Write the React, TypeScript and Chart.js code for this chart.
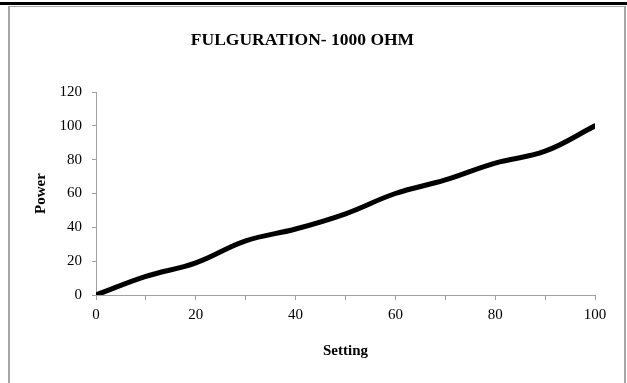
import React, { useEffect, useRef } from "react";
import { Chart, registerables } from "chart.js";

Chart.register(...registerables);

const settings = [0, 10, 20, 30, 40, 50, 60, 70, 80, 90, 100];
const power = [0, 11, 19, 32, 39, 48, 60, 68, 78, 85, 100];
const chartTitle = "FULGURATION- 1000 OHM";
const xTitle = "Setting";
const yTitle = "Power";

const FONT = "'Times New Roman', 'Liberation Serif', serif";
const AXIS_GRAY = "#a0a0a0";

export default function App() {
  const ref = useRef<HTMLCanvasElement | null>(null);

  useEffect(() => {
    if (!ref.current) return;
    const chart = new Chart(ref.current, {
      type: "line",
      data: {
        datasets: [
          {
            data: settings.map((s, i) => ({ x: s, y: power[i] })),
            borderColor: "#000",
            borderWidth: 5,
            borderCapStyle: "round",
            borderJoinStyle: "round",
            pointRadius: 0,
            tension: 0.4,
            fill: false,
          },
        ],
      },
      options: {
        responsive: false,
        animation: false,
        layout: { padding: { left: 0, right: 27, top: 0, bottom: 0 } },
        plugins: {
          legend: { display: false },
          tooltip: { enabled: false },
          title: {
            display: true,
            text: chartTitle,
            color: "#000",
            font: { family: FONT, size: 17.5, weight: "bold", lineHeight: 1.2 },
            padding: { top: 22, bottom: 41 },
          },
        },
        scales: {
          x: {
            type: "linear",
            min: 0,
            max: 100,
            afterFit: (s: any) => {
              s.height = 88;
            },
            ticks: {
              stepSize: 10,
              autoSkip: false,
              maxRotation: 0,
              padding: 6,
              color: "#000",
              font: { family: FONT, size: 15 },
              callback: (v: any) => (Number(v) % 20 === 0 ? String(v) : ""),
            },
            grid: {
              drawOnChartArea: false,
              drawTicks: true,
              tickLength: 5,
              color: AXIS_GRAY,
            },
            border: { color: AXIS_GRAY, width: 1 },
            title: {
              display: true,
              text: xTitle,
              color: "#000",
              font: { family: FONT, size: 15, weight: "bold", lineHeight: 1.2 },
              padding: { top: 0, bottom: 23 },
            },
          },
          y: {
            type: "linear",
            min: 0,
            max: 120,
            afterFit: (s: any) => {
              s.width = 86;
            },
            ticks: {
              stepSize: 20,
              padding: 10,
              color: "#000",
              font: { family: FONT, size: 15 },
            },
            grid: {
              drawOnChartArea: false,
              drawTicks: true,
              tickLength: 4,
              color: AXIS_GRAY,
            },
            border: { color: AXIS_GRAY, width: 1 },
            title: {
              display: true,
              text: yTitle,
              color: "#000",
              font: { family: FONT, size: 15, weight: "bold", lineHeight: 1.2 },
              padding: { top: 22, bottom: 0 },
            },
          },
        },
      },
    } as any);
    return () => chart.destroy();
  }, []);

  return (
    <div
      style={{
        position: "fixed",
        left: 0,
        top: 0,
        width: 627,
        height: 383,
        background: "#fff",
        overflow: "hidden",
      }}
    >
      <div
        style={{
          position: "absolute",
          left: 0,
          top: 2,
          width: 627,
          height: 3,
          background: "#000",
        }}
      />
      <div
        style={{
          position: "absolute",
          left: 8,
          top: 6,
          width: 614,
          height: 420,
          borderLeft: "2px solid #a6a6a6",
          borderRight: "2px solid #a6a6a6",
          borderTop: "1px solid #a6a6a6",
        }}
      />
      <canvas
        ref={ref}
        width={612}
        height={375}
        style={{ position: "absolute", left: 10, top: 8, width: 612, height: 375 }}
      />
    </div>
  );
}
